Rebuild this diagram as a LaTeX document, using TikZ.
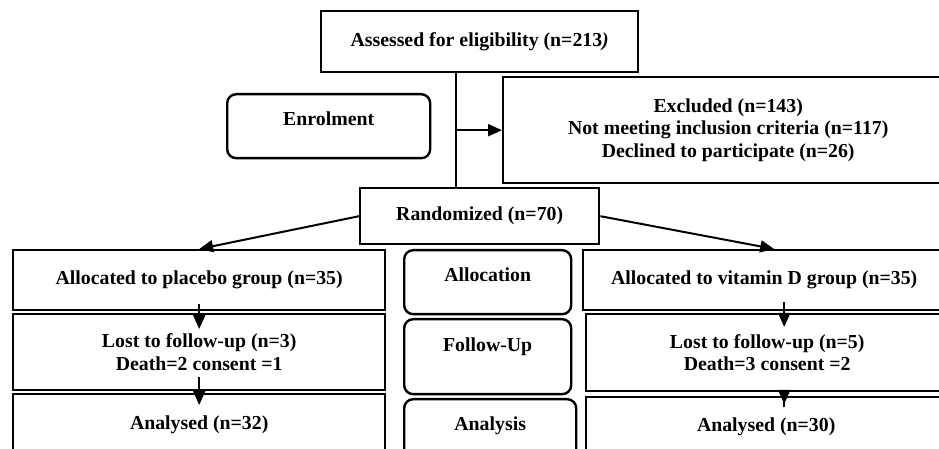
\documentclass[tikz,border=0pt]{standalone}
\usepackage{fontspec}
\setmainfont{Liberation Serif}
\usetikzlibrary{arrows.meta}

\begin{document}
\begin{tikzpicture}[x=0.5pt, y=-0.5pt,
		box/.style={draw, line width=1.2pt, anchor=north west, align=center, inner sep=0pt, font=\bfseries\fontsize{9.9}{11.3}\selectfont},
		stage/.style={box, rounded corners=4.5pt, text height=7pt, text depth=7.6pt},
		arr/.style={line width=1pt, -{Triangle[length=7pt,width=6pt]}}]
			\useasboundingbox (0, 0) rectangle (939, 449);
			\fill[white] (0, 0) rectangle (939, 449);
			\clip (0, 0) rectangle (939, 449);
			
			\node[box, minimum width=158.5pt, minimum height=30.5pt] (assess) at (320, 10) {Assessed for eligibility (n=213\textit{)}};
			\node[stage, minimum width=101.5pt, minimum height=32pt] (enrol) at (226, 93) {Enrolment};
			\node[box, minimum width=225pt, minimum height=53pt] (excl) at (502, 76) {Excluded (n=143)\\Not meeting inclusion criteria (n=117)\\Declined to participate (n=26)};
			\node[box, minimum width=119.5pt, minimum height=28pt] (rand) at (359, 187) {Randomized (n=70)};
			
			\node[box, minimum width=186pt, minimum height=30pt] (place) at (12, 249) {Allocated to placebo group (n=35)};
			\node[box, minimum width=186pt, minimum height=38pt] (lostp) at (12, 313) {Lost to follow-up (n=3)\\Death=2 consent =1};
			\node[box, minimum width=186pt, minimum height=31pt] (anp) at (12, 393) {Analysed (n=32)};
			
			\node[stage, minimum width=83.5pt, minimum height=32pt] (alloc) at (403, 249) {Allocation};
			\node[stage, minimum width=83.5pt, minimum height=37.5pt, text depth=12.6pt] (follow) at (403, 318) {Follow-Up};
			\node[stage, minimum width=86pt, minimum height=32pt] (analysis) at (403, 398) {Analysis};
			
			\node[box, minimum width=181pt, minimum height=30pt] (vitd) at (582, 249) {Allocated to vitamin D group (n=35)};
			\node[box, minimum width=181pt, minimum height=38.5pt] (lostv) at (585, 313) {Lost to follow-up (n=5)\\Death=3 consent =2};
			\node[box, minimum width=180pt, minimum height=30pt] (anv) at (585, 396) {Analysed (n=30)};
			
			\path ([xshift=-12pt]assess.south) coordinate (trunk);
			\path ([xshift=10pt]vitd.south) coordinate (vdrop);
			
			\draw[line width=1pt] (trunk) -- (trunk |- rand.north);
			\draw[arr] (trunk |- excl.west) -- (excl.west);
			\draw[arr] (rand.west) -- (place.north);
			\draw[arr] (rand.east) -- ([xshift=5pt]vitd.north);
			
			\draw[arr, shorten <=-3.5pt, shorten >=-8pt] (place.south) -- (lostp.north);
			\draw[arr, shorten <=-7pt, shorten >=-6pt] (lostp.south) -- (anp.north);
			\draw[arr, shorten <=-4.5pt, shorten >=-7pt] (vdrop) -- (vdrop |- lostv.north);
			\draw[arr, shorten <=-7.5pt, shorten >=-4pt] (vdrop |- lostv.south) -- (vdrop |- anv.north);
		\end{tikzpicture}
\end{document}
